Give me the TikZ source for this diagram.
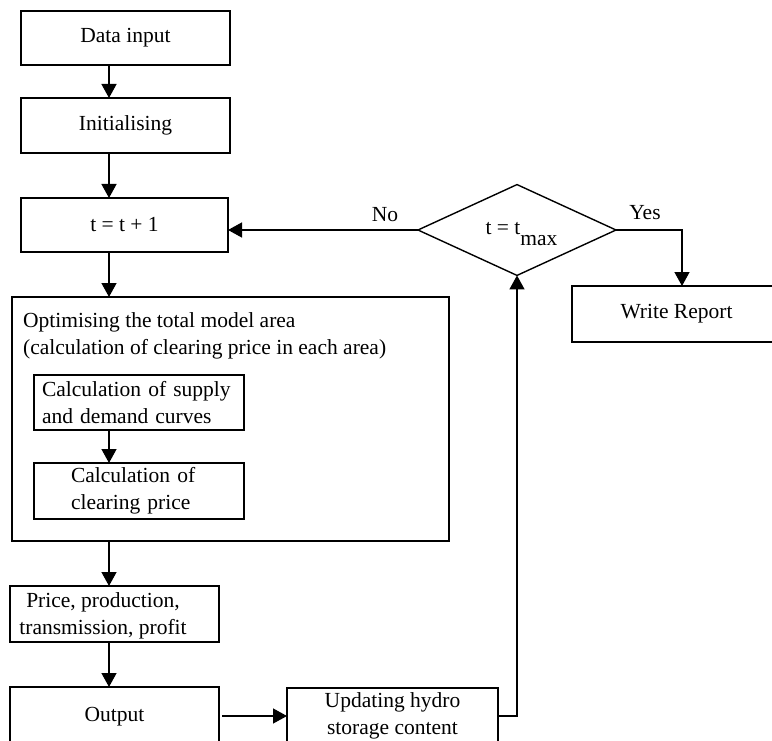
\documentclass[tikz,border=0pt]{standalone}
\usepackage{fontspec}
\setmainfont{Liberation Serif}
\usetikzlibrary{arrows.meta,shapes.geometric}
\begin{document}
\begin{tikzpicture}[x=1pt,y=-1pt,
  font=\fontsize{21.5}{27}\selectfont,
  box/.style={draw, line width=1.4pt, inner sep=0pt, outer sep=0pt, align=center},
  lbox/.style={box, align=left},
  decision/.style={draw, diamond, line width=1.4pt, inner sep=0pt, outer sep=0pt,
    minimum width=198pt, minimum height=88pt, text height=10pt, text depth=0pt},
  flow/.style={line width=1.4pt, -{Triangle[length=14pt,width=15pt]}},
  lbl/.style={inner sep=0pt}]
\useasboundingbox (0,0) rectangle (772,741);
\clip (0,0) rectangle (772,741);

% vertical line of the main flow
\coordinate (col) at (109,0);
\coordinate (yesx) at (682,0);

% boxes of the main column
\node[box, minimum width=209pt, minimum height=54pt] (din) at (125.5,38) {Data input};
\node[box, minimum width=209pt, minimum height=55pt] (init) at (125.5,125.5) {Initialising};
\node[box, minimum width=207pt, minimum height=54pt] (tinc) at (124.5,225) {t = t + 1};

% optimisation block with its two sub-steps
\node[box, minimum width=437pt, minimum height=244pt] (opt) at (230.5,419) {};
\node[lbl, anchor=north west, align=left] (opttxt) at (23,312)
  {Optimising the total model area\\(calculation of clearing price in each area)};
\node[lbox, minimum width=210pt, minimum height=55pt, text width=194pt, inner xsep=8pt] (sup) at (139,402.5)
  {Calculation of supply\\and demand curves};
\node[lbox, minimum width=210pt, minimum height=56pt, text width=136pt, inner xsep=37pt] (clr) at (139,491)
  {Calculation of\\clearing price};

% results box; its text sits a little left of the box centre
\node[box, minimum width=209pt, minimum height=56pt] (res) at (114.5,614) {};
\node[lbl, align=center] (restxt) at (103,616) {Price, production,\\transmission, profit};
\node[box, minimum width=209pt, minimum height=60pt] (out) at (114.5,717) {Output};
\node[box, minimum width=211pt, minimum height=56pt] (upd) at (392.5,716)
  {Updating hydro\\storage content};

% decision and report
\node[decision] (dia) at (517,230) {\hspace*{9pt}t = t\raisebox{-11pt}{max}};
\node[box, minimum width=209pt, minimum height=56pt] (rep) at (676.5,314) {Write Report};

\node[lbl] (no) at (385,215) {No};
\node[lbl] (yes) at (645,213) {Yes};

% connectors
\draw[flow] (din.south -| col) -- (init.north -| col);
\draw[flow] (init.south -| col) -- (tinc.north -| col);
\draw[flow] (tinc.south -| col) -- (opt.north -| col);
\draw[flow] (sup.south -| col) -- (clr.north -| col);
\draw[flow] (opt.south -| col) -- (res.north -| col);
\draw[flow] (res.south -| col) -- (out.north -| col);
\draw[flow, shorten <=3pt] (out.east |- upd.west) -- (upd.west);
\draw[flow] (upd.east) -| (dia.south);
\draw[flow] (dia.west) -- (dia.west -| tinc.east);
\draw[flow] (dia.east) -| (yesx |- rep.north);
\end{tikzpicture}
\end{document}
